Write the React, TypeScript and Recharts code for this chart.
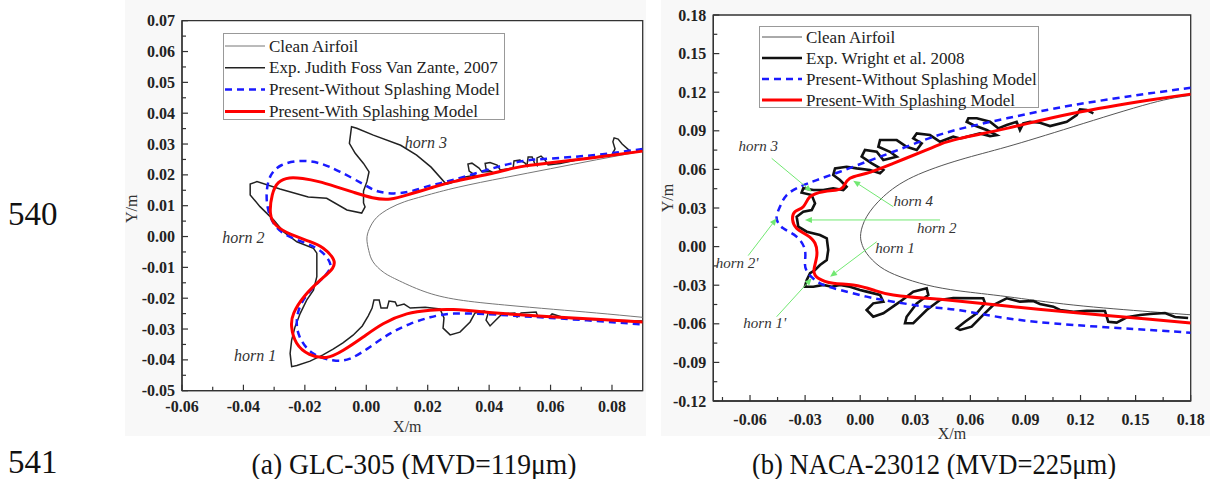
import React from 'react';
import {
  LineChart,
  Line,
  XAxis,
  YAxis,
  CartesianGrid,
  ReferenceArea,
  ReferenceDot,
  ReferenceLine,
  Legend,
} from 'recharts';

const SERIF = '"Liberation Serif", "Times New Roman", serif';
const AXIS = '#333';
const GREEN = '#72e872';

type Pt = [number, number];

// ---------- (a) GLC-305 ----------
const glcXTicks = [-0.06, -0.04, -0.02, 0, 0.02, 0.04, 0.06, 0.08];
const glcXMinor = [-0.05, -0.03, -0.01, 0.01, 0.03, 0.05, 0.07];
const glcYTicks = [-0.05, -0.04, -0.03, -0.02, -0.01, 0, 0.01, 0.02, 0.03, 0.04, 0.05, 0.06, 0.07];
const glcYMinor = [-0.045, -0.035, -0.025, -0.015, -0.005, 0.005, 0.015, 0.025, 0.035, 0.045, 0.055, 0.065];

const glcLegend = [
  'Clean Airfoil',
  'Exp. Judith Foss Van Zante, 2007',
  'Present-Without Splashing Model',
  'Present-With Splashing Model',
];

const glcClean: Pt[] = [
  [0.09, 0.0277], [0.075, 0.0249], [0.06, 0.022], [0.045, 0.0191], [0.0299, 0.016],
  [0.019, 0.0132], [0.0125, 0.0113], [0.0077, 0.0092], [0.0034, 0.0062], [0.001, 0.0025],
  [0.0002, -0.0008], [0.0008, -0.0045], [0.0022, -0.0082], [0.0055, -0.0115], [0.01, -0.014],
  [0.0188, -0.0178], [0.0299, -0.0205], [0.045, -0.0222], [0.0609, -0.0236], [0.075, -0.0248],
  [0.09, -0.0262],
];

const glcExp: Pt[] = [
  [0.0859, 0.0277], [0.0833, 0.03], [0.082, 0.0316], [0.0807, 0.032], [0.0803, 0.0307],
  [0.081, 0.0284], [0.08, 0.0266], [0.0696, 0.0251], [0.0631, 0.0237], [0.0592, 0.0232],
  [0.0582, 0.0248], [0.0569, 0.0261], [0.0556, 0.0255], [0.0556, 0.023], [0.0549, 0.0235],
  [0.054, 0.0258], [0.0527, 0.0258], [0.0523, 0.0229], [0.0517, 0.0238], [0.05, 0.0248],
  [0.0481, 0.0245], [0.0478, 0.0222], [0.0436, 0.0216], [0.0426, 0.0232], [0.0403, 0.024],
  [0.0387, 0.0237], [0.039, 0.0219], [0.0406, 0.0211], [0.0377, 0.0209], [0.0367, 0.0222],
  [0.0344, 0.0238], [0.0331, 0.0235], [0.0335, 0.0212], [0.0354, 0.0199], [0.0322, 0.0193],
  [0.0273, 0.0173], [0.026, 0.017], [0.0211, 0.0225], [0.0164, 0.0264], [0.0112, 0.0296],
  [0.0023, 0.0329], [-0.0031, 0.0351], [-0.0048, 0.0356], [-0.0055, 0.0302], [-0.0036, 0.027],
  [-0.0009, 0.0237], [0.0009, 0.021], [0.0002, 0.0178], [-0.0009, 0.0148], [-0.0009, 0.0109],
  [-0.0004, 0.0096], [-0.0015, 0.0076], [-0.0063, 0.0086], [-0.0129, 0.0124], [-0.0189, 0.0128],
  [-0.0281, 0.0154], [-0.0356, 0.0178], [-0.0378, 0.017], [-0.0378, 0.0135], [-0.0346, 0.0097],
  [-0.0302, 0.0054], [-0.027, 0.0016], [-0.0226, -0.0017], [-0.0172, -0.0038], [-0.0161, -0.0054],
  [-0.0161, -0.013], [-0.0172, -0.0174], [-0.0194, -0.0206], [-0.0215, -0.0249], [-0.0232, -0.0293],
  [-0.0243, -0.0336], [-0.0248, -0.0379], [-0.0243, -0.0422], [-0.0226, -0.0418], [-0.0183, -0.0404],
  [-0.0141, -0.0384], [-0.0108, -0.0365], [-0.0076, -0.0345], [-0.0043, -0.032], [-0.0013, -0.029],
  [0.0006, -0.0258], [0.0019, -0.0232], [0.0025, -0.0206], [0.0042, -0.0206], [0.0048, -0.0232],
  [0.0068, -0.0232], [0.0074, -0.0209], [0.0094, -0.0212], [0.01, -0.0225], [0.0123, -0.0219],
  [0.0143, -0.0232], [0.0192, -0.0229], [0.024, -0.0235], [0.0253, -0.0264], [0.025, -0.0297],
  [0.0273, -0.0319], [0.0305, -0.031], [0.0338, -0.0277], [0.0354, -0.0248], [0.0384, -0.0242],
  [0.0397, -0.0248], [0.039, -0.0271], [0.0403, -0.029], [0.0422, -0.0271], [0.0442, -0.0251],
  [0.0484, -0.0248], [0.0491, -0.0261], [0.0504, -0.0248], [0.0553, -0.0245], [0.0559, -0.0261],
  [0.0595, -0.0261], [0.0605, -0.0251], [0.0647, -0.0264], [0.0761, -0.0271], [0.0898, -0.0274],
];

const glcNoSplash: Pt[] = [
  [0.09, 0.0284], [0.075, 0.0265], [0.06, 0.0253], [0.05, 0.0243], [0.038, 0.0212],
  [0.0262, 0.0178], [0.0207, 0.0165], [0.015, 0.0148], [0.0095, 0.014], [0.004, 0.0146],
  [-0.001, 0.017], [-0.0085, 0.021], [-0.015, 0.0237], [-0.0213, 0.0245], [-0.0275, 0.0232],
  [-0.0312, 0.0196], [-0.0324, 0.0145], [-0.0321, 0.0095], [-0.0303, 0.0045], [-0.0262, 0.0006],
  [-0.0196, -0.0022], [-0.0145, -0.005], [-0.0118, -0.0087], [-0.0128, -0.0119], [-0.017, -0.0163],
  [-0.021, -0.0215], [-0.0226, -0.027], [-0.0217, -0.0325], [-0.0175, -0.0378], [-0.011, -0.0401],
  [-0.0053, -0.0396], [0.0012, -0.0358], [0.0077, -0.0315], [0.0143, -0.0283], [0.0208, -0.0262],
  [0.0284, -0.025], [0.04, -0.0252], [0.05, -0.0258], [0.06, -0.0264], [0.075, -0.0274],
  [0.09, -0.0285],
];

const glcSplash: Pt[] = [
  [0.09, 0.0277], [0.075, 0.0257], [0.06, 0.0239], [0.05, 0.0226], [0.04, 0.0203],
  [0.0284, 0.0178], [0.0208, 0.0157], [0.014, 0.0137], [0.0079, 0.0122], [0.002, 0.0126],
  [-0.004, 0.0143], [-0.01, 0.0162], [-0.0155, 0.0178], [-0.0207, 0.0188], [-0.025, 0.019],
  [-0.0286, 0.0175], [-0.0306, 0.0135], [-0.0312, 0.0075], [-0.0292, 0.0035], [-0.0245, 0.0007],
  [-0.0185, -0.0016], [-0.014, -0.0038], [-0.0108, -0.0072], [-0.011, -0.0103], [-0.0148, -0.014],
  [-0.02, -0.0192], [-0.0236, -0.0248], [-0.0243, -0.0293], [-0.0227, -0.0345], [-0.0185, -0.0382],
  [-0.013, -0.0392], [-0.0075, -0.0369], [-0.001, -0.0326], [0.0055, -0.0283], [0.0132, -0.0251],
  [0.0208, -0.0239], [0.0284, -0.0237], [0.04, -0.0246], [0.05, -0.0254], [0.06, -0.026],
  [0.075, -0.0268], [0.09, -0.0277],
];

const glcHorns = [
  { text: 'horn 3', x: 0.0194, y: 0.0307 },
  { text: 'horn 2', x: -0.04, y: -0.0003 },
  { text: 'horn 1', x: -0.0362, y: -0.0386 },
];

// ---------- (b) NACA-23012 ----------
const nacaXTicks = [-0.06, -0.03, 0, 0.03, 0.06, 0.09, 0.12, 0.15, 0.18];
const nacaXMinor = [-0.075, -0.045, -0.015, 0.015, 0.045, 0.075, 0.105, 0.135, 0.165];
const nacaYTicks = [-0.12, -0.09, -0.06, -0.03, 0, 0.03, 0.06, 0.09, 0.12, 0.15, 0.18];
const nacaYMinor = [-0.105, -0.075, -0.045, -0.015, 0.015, 0.045, 0.075, 0.105, 0.135, 0.165];

const nacaLegend = [
  'Clean Airfoil',
  'Exp. Wright et al. 2008',
  'Present-Without Splashing Model',
  'Present-With Splashing Model',
];

const nacaClean: Pt[] = [
  [0.18, 0.1175], [0.158, 0.1113], [0.116, 0.0932], [0.08, 0.0776], [0.0544, 0.0675],
  [0.0289, 0.0543], [0.0126, 0.0388], [0.0035, 0.0232], [0.0003, 0.0103], [0.0008, 0.0026],
  [0.0035, -0.0052], [0.0108, -0.0156], [0.0217, -0.0234], [0.0362, -0.0298], [0.0544, -0.0345],
  [0.08, -0.0389], [0.116, -0.0454], [0.158, -0.0506], [0.18, -0.053],
];

const nacaExp: Pt[] = [
  [0.127, 0.1036], [0.1234, 0.1061], [0.1197, 0.1067], [0.1179, 0.1023], [0.1125, 0.097],
  [0.1034, 0.0937], [0.0979, 0.0963], [0.0925, 0.097], [0.0888, 0.0958], [0.087, 0.0906],
  [0.0852, 0.097], [0.0798, 0.0945], [0.0752, 0.0919], [0.0707, 0.097], [0.0635, 0.0997],
  [0.0589, 0.0997], [0.058, 0.097], [0.0616, 0.0945], [0.0689, 0.0906], [0.0743, 0.0867],
  [0.0707, 0.0859], [0.0652, 0.088], [0.0544, 0.0841], [0.0507, 0.0854], [0.0435, 0.0815],
  [0.038, 0.0867], [0.0308, 0.088], [0.0289, 0.0841], [0.0335, 0.0803], [0.0308, 0.0751],
  [0.0253, 0.0776], [0.0199, 0.0828], [0.0108, 0.0828], [0.0099, 0.0776], [0.0162, 0.0737],
  [0.0199, 0.0699], [0.0126, 0.0673], [0.009, 0.0737], [0.0026, 0.0751], [0.0008, 0.0699],
  [0.0063, 0.0647], [0.0126, 0.0595], [0.0108, 0.057], [0.0053, 0.0595], [-0.0019, 0.0608],
  [-0.0074, 0.0621], [-0.0137, 0.0608], [-0.0147, 0.0556], [-0.011, 0.0517], [-0.0074, 0.0465],
  [-0.0092, 0.044], [-0.0147, 0.0453], [-0.0201, 0.044], [-0.0255, 0.044], [-0.031, 0.0453],
  [-0.0319, 0.0419], [-0.0264, 0.0401], [-0.0246, 0.0336], [-0.0264, 0.0284], [-0.031, 0.0271],
  [-0.0346, 0.0232], [-0.0337, 0.0155], [-0.0291, 0.0116], [-0.0219, 0.009], [-0.0182, 0.0064],
  [-0.0174, -0.0026], [-0.0182, -0.0104], [-0.0219, -0.0143], [-0.0246, -0.0182], [-0.0273, -0.0207],
  [-0.0291, -0.026], [-0.0301, -0.0312], [-0.0255, -0.0312], [-0.0201, -0.0298], [-0.0155, -0.0312],
  [-0.011, -0.0298], [-0.0056, -0.0312], [-0.0001, -0.0337], [0.0035, -0.035], [0.0108, -0.0376],
  [0.0126, -0.0428], [0.0071, -0.0441], [0.0035, -0.0493], [0.0071, -0.0545], [0.0126, -0.0518],
  [0.0217, -0.0428], [0.0289, -0.035], [0.0362, -0.0324], [0.0371, -0.0376], [0.0308, -0.0441],
  [0.0253, -0.0545], [0.0244, -0.0596], [0.0289, -0.0596], [0.0362, -0.0493], [0.0435, -0.0415],
  [0.0507, -0.0399], [0.067, -0.0402], [0.068, -0.0441], [0.0635, -0.0518], [0.0571, -0.0584],
  [0.0526, -0.0635], [0.0544, -0.0648], [0.0607, -0.0622], [0.067, -0.0531], [0.0725, -0.0454],
  [0.0798, -0.0402], [0.087, -0.0428], [0.0943, -0.0423], [0.0979, -0.0446], [0.1052, -0.0467],
  [0.1088, -0.0493], [0.1161, -0.0506], [0.1234, -0.0498], [0.1333, -0.05], [0.1351, -0.0584],
  [0.1397, -0.0591], [0.1452, -0.0549], [0.1524, -0.0531], [0.1578, -0.0524], [0.166, -0.0516],
  [0.1715, -0.0547], [0.1786, -0.0555],
];

const nacaNoSplash: Pt[] = [
  [0.18, 0.1235], [0.1578, 0.1191], [0.1161, 0.11], [0.0798, 0.0997], [0.0544, 0.0915],
  [0.0362, 0.0835], [0.018, 0.0737], [0.0035, 0.066], [-0.011, 0.0582], [-0.0237, 0.0517],
  [-0.0328, 0.0465], [-0.04, 0.0401], [-0.0437, 0.031], [-0.0455, 0.022], [-0.0419, 0.0142],
  [-0.0346, 0.0077], [-0.0301, -0.0026], [-0.0301, -0.013], [-0.0283, -0.0207], [-0.0219, -0.0285],
  [-0.011, -0.0337], [0.0035, -0.0389], [0.018, -0.0428], [0.0362, -0.0467], [0.0544, -0.0495],
  [0.0798, -0.0557], [0.1161, -0.0609], [0.1578, -0.0648], [0.18, -0.067],
];

const nacaSplash: Pt[] = [
  [0.18, 0.1185], [0.1578, 0.1139], [0.1161, 0.1036], [0.0798, 0.0919], [0.0544, 0.0841],
  [0.0435, 0.0795], [0.0362, 0.0751], [0.018, 0.0647], [0.0035, 0.057], [-0.0056, 0.0531],
  [-0.0092, 0.0465], [-0.0128, 0.044], [-0.0201, 0.0427], [-0.0273, 0.0388], [-0.031, 0.031],
  [-0.0355, 0.0271], [-0.0368, 0.0207], [-0.0346, 0.0142], [-0.0291, 0.009], [-0.0246, 0.0026],
  [-0.0237, -0.0078], [-0.0252, -0.0182], [-0.0228, -0.0246], [-0.0147, -0.0285], [-0.0038, -0.0298],
  [0.0071, -0.0337], [0.018, -0.0376], [0.0362, -0.0402], [0.0435, -0.041], [0.0798, -0.0462],
  [0.1161, -0.0513], [0.1578, -0.0565], [0.18, -0.0593],
];

const nacaHorns = [
  { text: 'horn 3', x: -0.0555, y: 0.0782 },
  { text: 'horn 4', x: 0.0289, y: 0.0357 },
  { text: 'horn 2', x: 0.0417, y: 0.015 },
  { text: 'horn 1', x: 0.019, y: -0.0005 },
  { text: "horn 2'", x: -0.067, y: -0.0125 },
  { text: "horn 1'", x: -0.052, y: -0.0591 },
];

const nacaArrows: { from: Pt; to: Pt }[] = [
  { from: [-0.0482, 0.0686], to: [-0.0264, 0.0427] },
  { from: [0.018, 0.031], to: [-0.0038, 0.0512] },
  { from: [0.0435, 0.0207], to: [-0.0301, 0.0207] },
  { from: [0.009, 0.0038], to: [-0.0164, -0.0234] },
  { from: [-0.061, -0.007], to: [-0.0455, 0.022] },
  { from: [-0.0455, -0.0545], to: [-0.0264, -0.0246] },
];

// ---------- helpers ----------
const rows = (pts: Pt[]) => pts.map(([x, y]) => ({ x, y }));
const inList = (list: number[], v: number) => list.some((m) => Math.abs(m - v) < 1e-9);

const makeXTick = (major: number[], gap: number) => (props: any) => {
  const { x, y, payload } = props;
  const big = inList(major, payload.value);
  return (
    <g>
      <line x1={x} y1={y} x2={x} y2={y - (big ? 6 : 4)} stroke={AXIS} strokeWidth={1.2} />
      {big && (
        <text x={x} y={y + gap} textAnchor="middle" dominantBaseline="central" fontFamily={SERIF} fontSize={16} fontWeight="bold" fill="#222">
          {payload.value.toFixed(2)}
        </text>
      )}
    </g>
  );
};

const makeYTick = (major: number[]) => (props: any) => {
  const { x, y, payload } = props;
  const big = inList(major, payload.value);
  return (
    <g>
      <line x1={x} y1={y} x2={x + (big ? 6 : 4)} y2={y} stroke={AXIS} strokeWidth={1.2} />
      {big && (
        <text x={x - 7} y={y} textAnchor="end" dominantBaseline="central" fontFamily={SERIF} fontSize={16} fontWeight="bold" fill="#222">
          {payload.value.toFixed(2)}
        </text>
      )}
    </g>
  );
};

const Arrow = (props: any) => {
  const { x1, y1, x2, y2 } = props;
  const a = Math.atan2(y2 - y1, x2 - x1);
  const bx = x2 - 7 * Math.cos(a);
  const by = y2 - 7 * Math.sin(a);
  const s = Math.sin(a) * 3;
  const c = Math.cos(a) * 3;
  return (
    <g>
      <line x1={x1} y1={y1} x2={bx} y2={by} stroke={GREEN} strokeWidth={1} />
      <polygon points={`${x2},${y2} ${bx - s},${by + c} ${bx + s},${by - c}`} fill={GREEN} />
    </g>
  );
};

const Y_AXIS_W = 50;
const X_AXIS_H = 30;

function IcingChart({ cfg }: { cfg: any }) {
  const { series, legend } = cfg;
  const [x0, x1] = cfg.xDomain;
  const [y0, y1] = cfg.yDomain;

  const legendContent = () => (
    <div style={{ width: legend.w, height: legend.h, border: '1px solid #999', background: '#fff', boxSizing: 'border-box' }}>
      <svg width={legend.w - 2} height={legend.h - 2} style={{ display: 'block', overflow: 'visible' }}>
        {series.map((s: any, i: number) => {
          const yy = legend.row0 + i * legend.step;
          return (
            <g key={s.name}>
              <line x1={legend.lineX} x2={legend.lineX + 40} y1={yy} y2={yy} stroke={s.stroke} strokeWidth={s.width} strokeDasharray={s.dash} />
              <text x={legend.lineX + 44} y={yy} dominantBaseline="central" fontFamily={SERIF} fontSize={17} fill="#222">
                {s.name}
              </text>
            </g>
          );
        })}
      </svg>
    </div>
  );

  const m = cfg.margin;
  const margin = { top: m.top, right: m.right, bottom: m.bottom - X_AXIS_H, left: m.left - Y_AXIS_W };

  return (
    <LineChart width={cfg.width} height={cfg.height} margin={margin}>
      <CartesianGrid horizontal={false} vertical={false} fill="#fff" />
      <XAxis
        type="number"
        dataKey="x"
        domain={cfg.xDomain}
        allowDataOverflow
        ticks={[...cfg.xTicks, ...cfg.xMinor]}
        interval={0}
        height={X_AXIS_H}
        tickSize={0}
        tickMargin={0}
        tickLine={false}
        tick={makeXTick(cfg.xTicks, cfg.xLabelGap)}
        axisLine={{ stroke: AXIS, strokeWidth: 1.3 }}
        label={(p: any) => {
          const vb = p.viewBox;
          return (
            <text x={vb.x + vb.width / 2 + cfg.xTitle.dx} y={vb.y + cfg.xTitle.dy} textAnchor="middle" dominantBaseline="central" fontFamily={SERIF} fontSize={16} fill="#333">
              X/m
            </text>
          );
        }}
      />
      <YAxis
        type="number"
        domain={cfg.yDomain}
        allowDataOverflow
        ticks={[...cfg.yTicks, ...cfg.yMinor]}
        interval={0}
        width={Y_AXIS_W}
        tickSize={0}
        tickMargin={0}
        tickLine={false}
        tick={makeYTick(cfg.yTicks)}
        axisLine={{ stroke: AXIS, strokeWidth: 1.3 }}
        label={(p: any) => {
          const vb = p.viewBox;
          const cx = vb.x + vb.width - cfg.yTitle.dx;
          const cy = vb.y + vb.height / 2 + cfg.yTitle.dy;
          return (
            <text x={cx} y={cy} transform={`rotate(-90 ${cx} ${cy})`} textAnchor="middle" dominantBaseline="central" fontFamily={SERIF} fontSize={16} fill="#333">
              Y/m
            </text>
          );
        }}
      />
      <ReferenceArea x1={x0} x2={x1} y1={y0} y2={y1} fill="none" stroke={AXIS} strokeWidth={1.3} strokeOpacity={1} />
      {series.map((s: any) => (
        <Line
          key={s.name}
          name={s.name}
          data={rows(s.pts)}
          dataKey="y"
          type={s.curve}
          stroke={s.stroke}
          strokeWidth={s.width}
          strokeDasharray={s.dash}
          dot={false}
          activeDot={false}
          isAnimationActive={false}
        />
      ))}
      {(cfg.arrows || []).map((a: any, i: number) => (
        <ReferenceLine
          key={`arrow-${i}`}
          segment={[{ x: a.from[0], y: a.from[1] }, { x: a.to[0], y: a.to[1] }]}
          stroke={GREEN}
          shape={Arrow}
        />
      ))}
      {cfg.horns.map((h: any) => (
        <ReferenceDot
          key={h.text}
          x={h.x}
          y={h.y}
          r={0}
          fill="none"
          stroke="none"
          label={{ value: h.text, position: 'center', fill: '#333', fontSize: cfg.hornSize, fontStyle: 'italic', fontFamily: SERIF }}
        />
      ))}
      <Legend
        layout="vertical"
        align="center"
        verticalAlign="middle"
        content={legendContent}
        wrapperStyle={{ left: legend.left, top: legend.top, width: legend.w, height: legend.h }}
      />
    </LineChart>
  );
}

const glcCfg = {
  width: 660,
  height: 440,
  margin: { top: 20.7, right: 17.3, bottom: 49.3, left: 182 },
  xDomain: [-0.06, 0.09],
  yDomain: [-0.05, 0.07],
  xTicks: glcXTicks,
  xMinor: glcXMinor,
  yTicks: glcYTicks,
  yMinor: glcYMinor,
  xLabelGap: 16,
  xTitle: { dx: -5, dy: 36 },
  yTitle: { dx: 50, dy: 3 },
  hornSize: 16,
  horns: glcHorns,
  arrows: [],
  legend: { left: 223, top: 33, w: 282, h: 87, row0: 12, step: 21.8, lineX: 1 },
  series: [
    { name: glcLegend[0], pts: glcClean, stroke: '#777', width: 1, curve: 'natural' },
    { name: glcLegend[1], pts: glcExp, stroke: '#222', width: 1.5, curve: 'linear' },
    { name: glcLegend[2], pts: glcNoSplash, stroke: '#1a1aff', width: 2.5, dash: '7 5', curve: 'natural' },
    { name: glcLegend[3], pts: glcSplash, stroke: '#ff0000', width: 3, curve: 'natural' },
  ],
};

const nacaCfg = {
  width: 550,
  height: 440,
  margin: { top: 15, right: 19.3, bottom: 39, left: 53.3 },
  xDomain: [-0.08, 0.18],
  yDomain: [-0.12, 0.18],
  xTicks: nacaXTicks,
  xMinor: nacaXMinor,
  yTicks: nacaYTicks,
  yMinor: nacaYMinor,
  xLabelGap: 18,
  xTitle: { dx: 0, dy: 32 },
  yTitle: { dx: 46, dy: -10 },
  hornSize: 15,
  horns: nacaHorns,
  arrows: nacaArrows,
  legend: { left: 99, top: 26, w: 280, h: 82, row0: 10, step: 21, lineX: 2 },
  series: [
    { name: nacaLegend[0], pts: nacaClean, stroke: '#555', width: 1, curve: 'natural' },
    { name: nacaLegend[1], pts: nacaExp, stroke: '#111', width: 2.6, curve: 'linear' },
    { name: nacaLegend[2], pts: nacaNoSplash, stroke: '#1a1aff', width: 2.5, dash: '7 5', curve: 'natural' },
    { name: nacaLegend[3], pts: nacaSplash, stroke: '#ff0000', width: 3, curve: 'natural' },
  ],
};

export default function App() {
  return (
    <div style={{ position: 'absolute', left: 0, top: 0, width: 1210, height: 479, background: '#fff', overflow: 'hidden' }}>
      <div style={{ position: 'absolute', left: 125, top: 0, width: 521, height: 436, background: '#f8f8f8' }} />
      <div style={{ position: 'absolute', left: 661, top: 0, width: 549, height: 436, background: '#f8f8f8' }} />
      <div style={{ position: 'absolute', left: 0, top: 0 }}>
        <IcingChart cfg={glcCfg} />
      </div>
      <div style={{ position: 'absolute', left: 660, top: 0 }}>
        <IcingChart cfg={nacaCfg} />
      </div>
      <svg width={1210} height={479} style={{ position: 'absolute', left: 0, top: 0, pointerEvents: 'none' }}>
        <text x={8} y={225} fontFamily={SERIF} fontSize={33} fill="#111">540</text>
        <text x={8} y={473} fontFamily={SERIF} fontSize={33} fill="#111">541</text>
        <text x={414} y={474} textAnchor="middle" fontFamily={SERIF} fontSize={29} fill="#111" textLength={325} lengthAdjust="spacingAndGlyphs">
          (a) GLC-305 (MVD=119μm)
        </text>
        <text x={934} y={474} textAnchor="middle" fontFamily={SERIF} fontSize={29} fill="#111" textLength={364} lengthAdjust="spacingAndGlyphs">
          (b) NACA-23012 (MVD=225μm)
        </text>
      </svg>
    </div>
  );
}
